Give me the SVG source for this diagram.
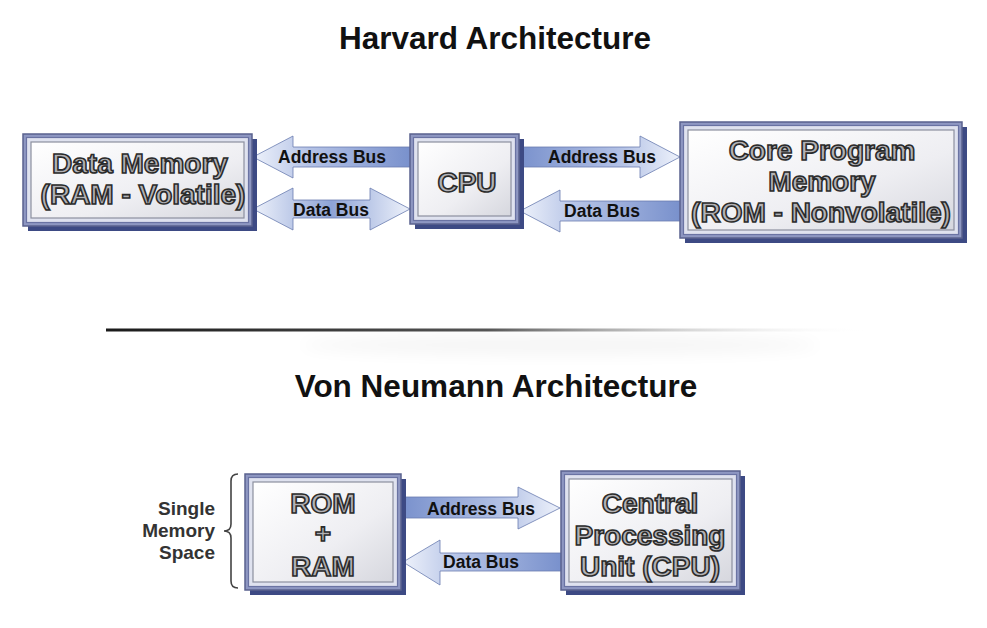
<svg xmlns="http://www.w3.org/2000/svg" width="987" height="628" viewBox="0 0 987 628">
<defs>
<linearGradient id="inner" x1="0" y1="0" x2="1" y2="1">
<stop offset="0" stop-color="#ffffff"/>
<stop offset="0.6" stop-color="#eeeef2"/>
<stop offset="1" stop-color="#d6d7de"/>
</linearGradient>
<linearGradient id="arrL" x1="0" y1="0" x2="1" y2="0">
<stop offset="0" stop-color="#eef2fb"/>
<stop offset="0.35" stop-color="#b5c3e6"/>
<stop offset="1" stop-color="#7890cc"/>
</linearGradient>
<linearGradient id="arrR" x1="1" y1="0" x2="0" y2="0">
<stop offset="0" stop-color="#eef2fb"/>
<stop offset="0.35" stop-color="#b5c3e6"/>
<stop offset="1" stop-color="#7890cc"/>
</linearGradient>
<linearGradient id="arrD" x1="0" y1="0" x2="1" y2="0">
<stop offset="0" stop-color="#eef2fb"/>
<stop offset="0.5" stop-color="#8ea3d6"/>
<stop offset="1" stop-color="#eef2fb"/>
</linearGradient>
<linearGradient id="sep" x1="0" y1="0" x2="1" y2="0">
<stop offset="0" stop-color="#1a1a1a"/>
<stop offset="0.5" stop-color="#555555"/>
<stop offset="1" stop-color="#ffffff" stop-opacity="0"/>
</linearGradient>
<filter id="blur" x="-20%" y="-200%" width="140%" height="500%">
<feGaussianBlur stdDeviation="8"/>
</filter>
</defs>
<style>
.title{font-family:"Liberation Sans",Arial,sans-serif;font-weight:bold;font-size:31.5px;fill:#111;text-anchor:middle}
.bus{font-family:"Liberation Sans",Arial,sans-serif;font-weight:bold;font-size:17.5px;fill:#111;text-anchor:middle}
.side{font-family:"Liberation Sans",Arial,sans-serif;font-weight:bold;font-size:19px;fill:#333;text-anchor:end}
.big{font-family:"Liberation Sans",Arial,sans-serif;font-weight:bold;font-size:28px;fill:#b2b2b6;stroke:#2b2b2b;stroke-width:1.6;text-anchor:middle}
.shadow{fill:#3d4a84}
.f1{fill:#8e97c2;stroke:#5a628e;stroke-width:1.5}
.f2{fill:#dfe2ef;stroke:#6a73a3;stroke-width:1.2}
.f3{fill:url(#inner);stroke:#8c8f9e;stroke-width:1.2}
.arrow{stroke:#6a7cb0;stroke-width:0.8}
.brace{fill:none;stroke:#444;stroke-width:1.6}
</style>
<rect width="987" height="628" fill="#ffffff"/>
<text class="title" x="495" y="49">Harvard Architecture</text>
<text class="title" x="496" y="397">Von Neumann Architecture</text>
<g id="separator">
<ellipse cx="560" cy="345" rx="260" ry="10" fill="#000" opacity="0.04" filter="url(#blur)"/>
<rect x="106" y="328.5" width="764" height="3" fill="url(#sep)"/>
</g>
<g id="connectors">
<polygon class="arrow" fill="url(#arrL)" points="253,157 293,136 293,147 412,147 412,167 293,167 293,178"/>
<text class="bus" x="332" y="163">Address Bus</text>
<polygon class="arrow" fill="url(#arrD)" points="253,209 293,188 293,200 370,200 370,188 410,209 370,230 370,218 293,218 293,230"/>
<text class="bus" x="331" y="216">Data Bus</text>
<polygon class="arrow" fill="url(#arrR)" points="517,147 640,147 640,136 680,157 640,178 640,167 517,167"/>
<text class="bus" x="602" y="163">Address Bus</text>
<polygon class="arrow" fill="url(#arrL)" points="520,211 560,190 560,201 682,201 682,221 560,221 560,232"/>
<text class="bus" x="602" y="217">Data Bus</text>
<polygon class="arrow" fill="url(#arrR)" points="400,497 518,497 518,487 560,508 518,529 518,518 400,518"/>
<text class="bus" x="481" y="515">Address Bus</text>
<polygon class="arrow" fill="url(#arrL)" points="403,562 440,540 440,553 563,553 563,571 440,571 440,585"/>
<text class="bus" x="481" y="568">Data Bus</text>
</g>
<g id="data-memory">
<rect class="shadow" x="28" y="139" width="229" height="92"/>
<rect class="f1" x="23" y="134" width="229" height="92"/>
<rect class="f2" x="26.5" y="137.5" width="222" height="85"/>
<rect class="f3" x="31" y="142" width="213" height="76"/>
<text class="big" x="140" y="173">Data Memory</text>
<text class="big" x="143" y="204">(RAM - Volatile)</text>
</g>
<g id="cpu">
<rect class="shadow" x="415" y="139" width="109" height="90"/>
<rect class="f1" x="410" y="134" width="109" height="90"/>
<rect class="f2" x="413.5" y="137.5" width="102" height="83"/>
<rect class="f3" x="418" y="142" width="93" height="74"/>
<text class="big" x="467" y="192">CPU</text>
</g>
<g id="core-program-memory">
<rect class="shadow" x="685" y="127" width="282" height="116"/>
<rect class="f1" x="680" y="122" width="282" height="116"/>
<rect class="f2" x="683.5" y="125.5" width="275" height="109"/>
<rect class="f3" x="688" y="130" width="266" height="100"/>
<text class="big" x="822" y="160">Core Program</text>
<text class="big" x="822" y="191">Memory</text>
<text class="big" x="821" y="222">(ROM - Nonvolatile)</text>
</g>
<g id="single-memory-space">
<path class="brace" d="M238,474 Q231,474 231,481 L231,524 Q231,531 224,531 Q231,531 231,538 L231,581 Q231,588 238,588"/>
<text class="side" x="215" y="515">Single</text>
<text class="side" x="215" y="537">Memory</text>
<text class="side" x="215" y="559">Space</text>
</g>
<g id="rom-ram">
<rect class="shadow" x="250" y="479" width="156" height="116"/>
<rect class="f1" x="245" y="474" width="156" height="116"/>
<rect class="f2" x="248.5" y="477.5" width="149" height="109"/>
<rect class="f3" x="253" y="482" width="140" height="100"/>
<text class="big" x="323" y="513">ROM</text>
<text class="big" x="323" y="543">+</text>
<text class="big" x="323" y="576">RAM</text>
</g>
<g id="central-processing-unit">
<rect class="shadow" x="566" y="476" width="179" height="119"/>
<rect class="f1" x="561" y="471" width="179" height="119"/>
<rect class="f2" x="564.5" y="474.5" width="172" height="112"/>
<rect class="f3" x="569" y="479" width="163" height="103"/>
<text class="big" x="650" y="513">Central</text>
<text class="big" x="650" y="545">Processing</text>
<text class="big" x="650" y="576">Unit (CPU)</text>
</g>
</svg>
